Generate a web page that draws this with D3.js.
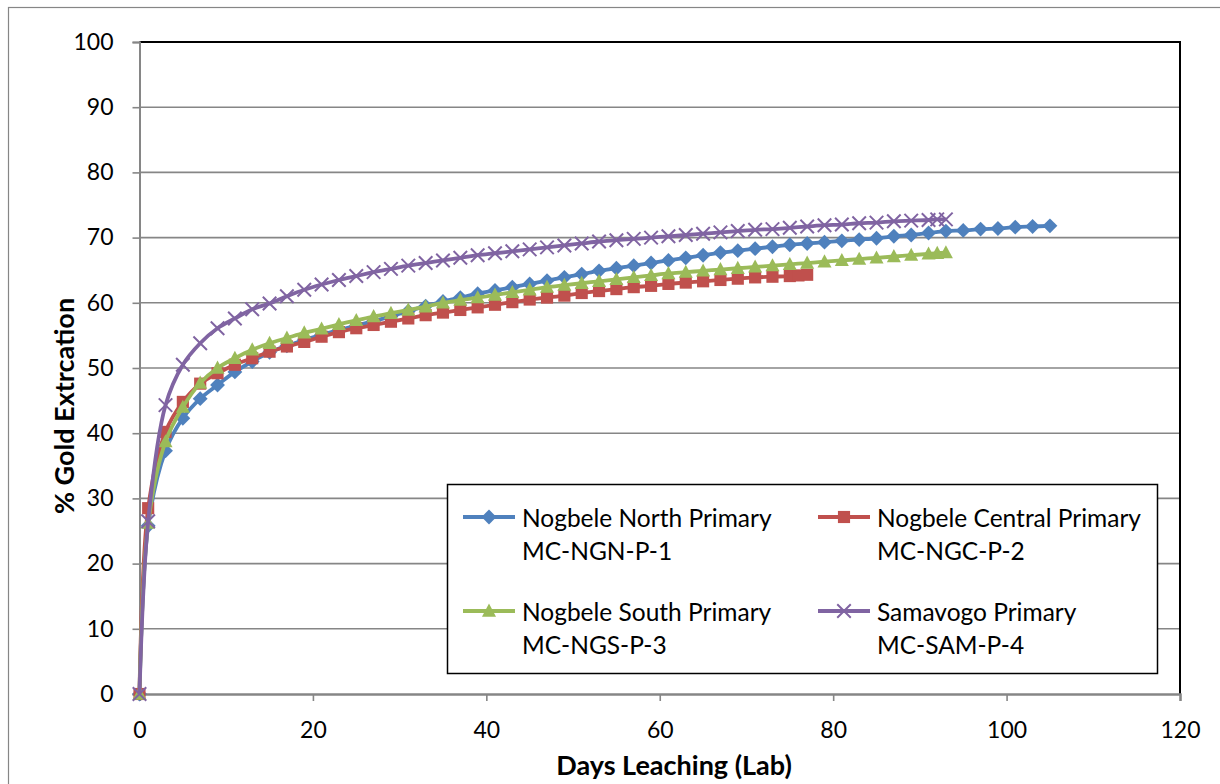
<!DOCTYPE html>
<html><head><meta charset="utf-8">
<script src="https://cdn.jsdelivr.net/npm/d3@7"></script>
<style>
html,body{margin:0;padding:0;background:#fff;}
svg{display:block;font-family:Lato,"Open Sans",sans-serif;}
</style></head>
<body><svg id="chart" width="1220" height="784"></svg>
<script>
// ---- data ----
const daysNorth = [0,1,3,5,7,9,11,13,15,17,19,21,23,25,27,29,31,33,35,37,39,41,43,45,47,49,51,53,55,57,59,61,63,65,67,69,71,73,75,77,79,81,83,85,87,89,91,93,95,97,99,101,103,105];
const valsNorth = [0,25.8,37.3,42.3,45.3,47.4,49.4,51.0,52.4,53.4,54.3,55.1,55.8,56.5,57.2,57.9,58.7,59.5,60.2,60.8,61.4,61.9,62.4,62.9,63.4,63.9,64.4,64.9,65.3,65.7,66.1,66.5,66.9,67.3,67.7,68.0,68.3,68.6,68.9,69.1,69.3,69.5,69.7,69.9,70.2,70.4,70.7,71.0,71.1,71.3,71.4,71.6,71.7,71.8];

const daysCentral = [0,1,3,5,7,9,11,13,15,17,19,21,23,25,27,29,31,33,35,37,39,41,43,45,47,49,51,53,55,57,59,61,63,65,67,69,71,73,75,76,77];
const valsCentral = [0,28.5,40.2,44.8,47.6,49.2,50.5,51.5,52.5,53.3,54.0,54.8,55.5,56.1,56.6,57.1,57.6,58.1,58.5,58.9,59.3,59.7,60.1,60.5,60.8,61.1,61.5,61.8,62.1,62.4,62.6,62.9,63.1,63.3,63.5,63.7,63.9,64.0,64.1,64.2,64.3];

const daysSouth = [0,1,3,5,7,9,11,13,15,17,19,21,23,25,27,29,31,33,35,37,39,41,43,45,47,49,51,53,55,57,59,61,63,65,67,69,71,73,75,77,79,81,83,85,87,89,91,92,93];
const valsSouth = [0,26.2,38.7,44.0,47.7,50.0,51.5,52.8,53.8,54.6,55.4,56.0,56.7,57.3,57.9,58.4,58.9,59.4,60.0,60.4,60.8,61.2,61.6,62.0,62.4,62.7,63.0,63.3,63.6,63.9,64.2,64.5,64.7,64.9,65.1,65.3,65.5,65.7,65.9,66.1,66.3,66.5,66.7,66.9,67.1,67.3,67.5,67.6,67.7];

const daysSam = [0,1,3,5,7,9,11,13,15,17,19,21,23,25,27,29,31,33,35,37,39,41,43,45,47,49,51,53,55,57,59,61,63,65,67,69,71,73,75,77,79,81,83,85,87,89,91,92,93];
const valsSam = [0,26.5,44.3,50.5,53.8,56.1,57.6,59.0,59.9,61.0,62.0,62.8,63.5,64.1,64.7,65.2,65.7,66.1,66.5,66.9,67.3,67.6,67.9,68.2,68.5,68.8,69.1,69.4,69.6,69.8,70.0,70.2,70.4,70.6,70.8,71.0,71.2,71.3,71.5,71.7,71.9,72.0,72.2,72.3,72.5,72.6,72.7,72.8,72.8];

const seriesNames = ["Nogbele North Primary","Nogbele Central Primary","Nogbele South Primary","Samavogo Primary"];
const seriesCodes = ["MC-NGN-P-1","MC-NGC-P-2","MC-NGS-P-3","MC-SAM-P-4"];
const xTicks = [0,20,40,60,80,100,120];
const yTicks = [0,10,20,30,40,50,60,70,80,90,100];
const xTitle = "Days Leaching (Lab)";
const yTitle = "% Gold Extrcation";

// ---- styling ----
const colors = ["#4F81BD","#C0504D","#9BBB59","#8064A2"];
const markers = ["diamond","square","triangle","x"];
const series = [
  {days:daysNorth, vals:valsNorth},
  {days:daysCentral, vals:valsCentral},
  {days:daysSouth, vals:valsSouth},
  {days:daysSam, vals:valsSam}
];

const svg = d3.select("#chart");
const P = {left:139.5, right:1180, top:42, bottom:694};
const x = d3.scaleLinear().domain([0,120]).range([P.left,P.right]);
const y = d3.scaleLinear().domain([0,100]).range([P.bottom,P.top]);
const grid = "#868686";

// outer border
svg.append("rect").attr("x",8.5).attr("y",7.5).attr("width",1240).attr("height",800)
  .attr("fill","none").attr("stroke",grid).attr("stroke-width",1.2);

// gridlines
svg.append("g").selectAll("line").data(yTicks.filter(d=>d>0)).join("line")
  .attr("x1",P.left).attr("x2",P.right).attr("y1",d=>y(d)).attr("y2",d=>y(d))
  .attr("stroke",grid).attr("stroke-width",1.6);

// plot border top & right
svg.append("path").attr("d",`M${P.left},${P.top}H${P.right}V${P.bottom}`)
  .attr("fill","none").attr("stroke","#000").attr("stroke-width",2);

// y axis
const yAxis = d3.axisLeft(y).tickValues(yTicks).tickSize(7).tickPadding(19);
const gy = svg.append("g").attr("transform",`translate(${P.left},0)`).call(yAxis);
gy.select(".domain").attr("stroke",grid).attr("stroke-width",2);
gy.selectAll(".tick line").attr("stroke",grid).attr("stroke-width",1.6);
gy.selectAll(".tick text").attr("font-size",23).attr("fill","#000").attr("font-family","Lato");

// x axis
const xAxis = d3.axisBottom(x).tickValues(xTicks).tickSize(7).tickPadding(21);
const gx = svg.append("g").attr("transform",`translate(0,${P.bottom})`).call(xAxis);
gx.select(".domain").attr("stroke",grid).attr("stroke-width",2.4);
gx.selectAll(".tick line").attr("stroke",grid).attr("stroke-width",1.6);
gx.selectAll(".tick text").attr("font-size",23).attr("fill","#000").attr("font-family","Lato");

// titles
svg.append("text").attr("x",674).attr("y",764).attr("text-anchor","middle")
  .attr("dominant-baseline","central").attr("font-weight","bold").attr("font-size",27).text(xTitle);
svg.append("text").attr("transform","translate(63,406) rotate(-90)").attr("text-anchor","middle")
  .attr("dominant-baseline","central").attr("font-weight","bold").attr("font-size",27).text(yTitle);

// marker drawing
function drawMarker(g, type, color, cx, cy, s){
  if(type==="diamond"){
    g.append("path").attr("d",`M${cx},${cy-s*0.55}L${cx+s*0.55},${cy}L${cx},${cy+s*0.55}L${cx-s*0.55},${cy}Z`).attr("fill",color);
  } else if(type==="square"){
    g.append("rect").attr("x",cx-s*0.45).attr("y",cy-s*0.45).attr("width",s*0.9).attr("height",s*0.9).attr("fill",color);
  } else if(type==="triangle"){
    g.append("path").attr("d",`M${cx},${cy-s*0.55}L${cx+s*0.52},${cy+s*0.42}L${cx-s*0.52},${cy+s*0.42}Z`).attr("fill",color);
  } else {
    const h=s*0.5;
    g.append("path").attr("d",`M${cx-h},${cy-h}L${cx+h},${cy+h}M${cx-h},${cy+h}L${cx+h},${cy-h}`)
      .attr("stroke",color).attr("stroke-width",2).attr("fill","none");
  }
}

const line = d3.line().x(d=>x(d[0])).y(d=>y(d[1])).curve(d3.curveCatmullRom.alpha(0.5));
series.forEach((s,i)=>{
  const pts = s.days.map((d,j)=>[d,s.vals[j]]);
  const g = svg.append("g");
  g.append("path").datum(pts).attr("d",line).attr("fill","none")
    .attr("stroke",colors[i]).attr("stroke-width",3.8).attr("stroke-linejoin","round");
  pts.forEach(p=>drawMarker(g, markers[i], colors[i], x(p[0]), y(p[1]), 13.5));
});

// legend
const L = {x:447.5, y:484.5, w:710, h:189};
svg.append("rect").attr("x",L.x).attr("y",L.y).attr("width",L.w).attr("height",L.h)
  .attr("fill","#fff").attr("stroke","#000").attr("stroke-width",1.5);
const legPos = [[463,517],[818,517],[463,611],[818,611]];
seriesNames.forEach((name,i)=>{
  const [lx,ly] = legPos[i];
  const g = svg.append("g");
  g.append("line").attr("x1",lx).attr("x2",lx+52).attr("y1",ly).attr("y2",ly)
    .attr("stroke",colors[i]).attr("stroke-width",3.8);
  drawMarker(g, markers[i], colors[i], lx+26, ly, 13.5);
  g.append("text").attr("x",lx+59).attr("y",ly).attr("dominant-baseline","central")
    .attr("font-size",24.5).text(name);
  g.append("text").attr("x",lx+59).attr("y",ly+33).attr("dominant-baseline","central")
    .attr("font-size",24.5).text(seriesCodes[i]);
});
</script></body></html>
